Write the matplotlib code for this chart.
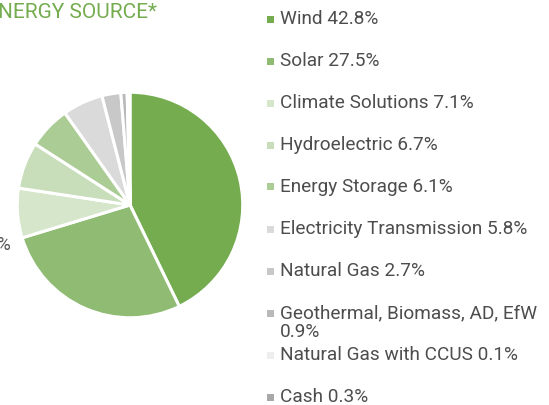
import matplotlib
matplotlib.use("Agg")
from matplotlib import pyplot as plt
from matplotlib.patches import Rectangle

# energy source breakdown
labels = ["Wind", "Solar", "Climate Solutions", "Hydroelectric", "Energy Storage",
          "Electricity Transmission", "Natural Gas", "Geothermal, Biomass, AD, EfW",
          "Natural Gas with CCUS", "Cash"]
shares = [42.8, 27.5, 7.1, 6.7, 6.1, 5.8, 2.7, 0.9, 0.1, 0.3]
colors = ["#74AC4F", "#8FBB73", "#D6E6CB", "#C8DDB9", "#ABCC94",
          "#DADADA", "#C8C8C8", "#B9B9B9", "#EEEEEE", "#A8A8A8"]
# legend line breaks, as in the original
legend_breaks = {"Geothermal, Biomass, AD, EfW": "Geothermal, Biomass, AD, EfW\n{:.1f}%"}

W, H = 549, 405
plt.rcParams["font.family"] = ["Roboto", "DejaVu Sans"]

fig = plt.figure(figsize=(W / 100, H / 100), dpi=100)

# pie axes: centre (130, 205) px, radius 115 px
cx, cy, r = 130, 205, 115
ax = fig.add_axes([(cx - r) / W, (H - cy - r) / H, 2 * r / W, 2 * r / H])
ax.pie(shares, colors=colors, startangle=90, counterclock=False,
       wedgeprops=dict(edgecolor="white", linewidth=2.2))
ax.set_xlim(-1.02, 1.02)
ax.set_ylim(-1.02, 1.02)
ax.set_aspect("equal")
ax.axis("off")

# title (cropped on the left in the original)
fig.text(-2 / W, 1 - 12 / H, "NERGY SOURCE*", color="#74AC4F", fontsize=15,
         va="center", ha="left")
# cropped label at left edge
fig.text(11 / W, 1 - 245 / H, "%", color="#555555", fontsize=13.5,
         va="center", ha="right")

# legend
text_color = "#4D4D4D"
row0, step, line_h = 19, 42, 19
for i, (lab, val, col) in enumerate(zip(labels, shares, colors)):
    y = row0 + i * step
    fig.patches.append(Rectangle((267 / W, 1 - (y + 3.5) / H), 7 / W, 7 / H,
                                 transform=fig.transFigure, facecolor=col,
                                 edgecolor="none"))
    txt = legend_breaks.get(lab, lab + " {:.1f}%").format(val)
    for j, line in enumerate(txt.split("\n")):
        fig.text(280 / W, 1 - (y + j * line_h) / H, line, color=text_color,
                 fontsize=13.7, va="center", ha="left")

fig.savefig("out.png", dpi=100, facecolor="white")
